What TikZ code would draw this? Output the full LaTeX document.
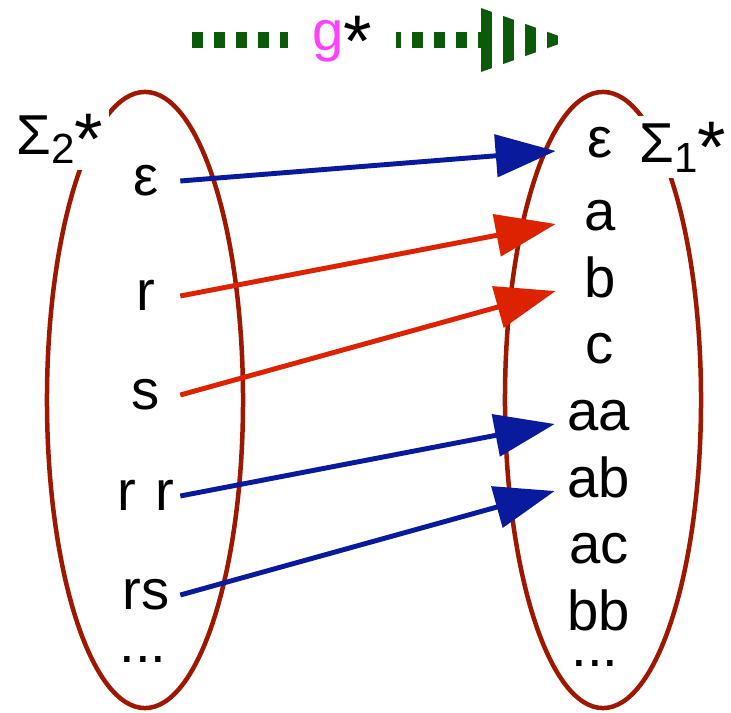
\documentclass[tikz,border=0pt]{standalone}
\usepackage{fontspec}
\setmainfont{Liberation Sans}
\usepackage{xcolor}
\usepackage{tikz}
\usetikzlibrary{arrows.meta,shapes.geometric}
\definecolor{setRing}{HTML}{9E1800}
\definecolor{mapBlue}{HTML}{0A1A9C}
\definecolor{mapRed}{HTML}{DD2200}
\definecolor{gGreen}{HTML}{0A5A0A}
\definecolor{gPink}{HTML}{FF40FF}
\newcommand{\wordsize}{\fontsize{40}{48}\selectfont}
\newcommand{\subsize}{\fontsize{30}{30}\selectfont}
\newcommand{\bigstar}[1]{\raisebox{#1}{\fontsize{52}{52}\selectfont *}}
\tikzset{
  setring/.style={
    ellipse,
    draw=setRing,
    line width=3.2pt,
    minimum width=4.9cm,
    minimum height=15.4cm,
    inner sep=0pt
  },
  leftWord/.style={
    anchor=base,
    text width=1.7cm,
    align=center,
    inner sep=0pt,
    font=\wordsize
  },
  rightWord/.style={
    anchor=base,
    text width=2.2cm,
    align=center,
    inner sep=0pt,
    font=\wordsize
  },
  setLabel/.style={
    anchor=base west,
    fill=white,
    inner sep=0.15cm,
    font=\wordsize
  },
  mapArrow/.style={
    -{Triangle[length=1.5cm,width=1.05cm]},
    line width=3.5pt
  },
  gShaft/.style={
    draw=gGreen,
    line width=0.4cm,
    dash pattern=on 0.275cm off 0.275cm
  },
  gLabel/.style={
    anchor=base,
    fill=white,
    inner sep=0pt,
    minimum width=2.7cm,
    font=\wordsize
  }
}

\begin{document}
\begin{tikzpicture}[x=0.025cm,y=-0.025cm]
  \useasboundingbox (0,0) rectangle (731,712);
  % top arrow g*
  \coordinate (gTail) at (192,40);
  \coordinate (gHead) at (481,40);
  \draw[gShaft] (gTail) -- (gHead);
  \begin{scope}
    \clip (gHead) ++(0,-32) -- ++(89,32) -- ++(-89,32) -- cycle;
    \foreach \x in {0,22,44,66}
      \fill[gGreen] (gHead) ++(\x,-40) rectangle ++(11,80);
  \end{scope}
  \node[gLabel] (gStar) at (342,50) {{\color{gPink}g}\bigstar{-0.4cm}};
  % the two sets
  \node[setring] (sigmaTwo) at (145,400) {};
  \node[setring] (sigmaOne) at (603,400) {};
  \node[setLabel] (sigmaTwoLabel) at (10,154) {Σ\raisebox{-0.225cm}{\subsize 2}\bigstar{-0.25cm}};
  \node[setLabel] (sigmaOneLabel) at (633,162) {Σ\raisebox{-0.25cm}{\subsize 1}\bigstar{-0.25cm}};
  % words of sigma 2
  \node[leftWord] (leftEps) at (146,195) {ε};
  \node[leftWord] (leftR) at (146,310) {r};
  \node[leftWord] (leftS) at (146,409) {s};
  \node[leftWord] (leftRR) at (146,510) {r r};
  \node[leftWord] (leftRS) at (146,609) {rs};
  \node[leftWord] (leftDots) at (143,662) {...};
  % words of sigma 1
  \node[rightWord] (rightEps) at (600,157) {ε};
  \node[rightWord] (rightA) at (600,230) {a};
  \node[rightWord] (rightB) at (600,297) {b};
  \node[rightWord] (rightC) at (600,363) {c};
  \node[rightWord] (rightAA) at (599,430) {aa};
  \node[rightWord] (rightAB) at (599,497) {ab};
  \node[rightWord] (rightAC) at (599,563) {ac};
  \node[rightWord] (rightBB) at (599,630) {bb};
  \node[rightWord] (rightDots) at (595,666) {...};
  % g* maps
  \draw[mapArrow,mapBlue] ([yshift=0.35cm]leftEps.base east) -- ([yshift=0.15cm]rightEps.base west);
  \draw[mapArrow,mapRed] ([yshift=0.35cm]leftR.base east) -- ([yshift=0.15cm]rightA.base west);
  \draw[mapArrow,mapRed] ([yshift=0.35cm]leftS.base east) -- ([yshift=0.15cm]rightB.base west);
  \draw[mapArrow,mapBlue] ([yshift=0.35cm]leftRR.base east) -- ([yshift=0.15cm]rightAA.base west);
  \draw[mapArrow,mapBlue] ([yshift=0.35cm]leftRS.base east) -- ([yshift=0.15cm]rightAB.base west);
\end{tikzpicture}
\end{document}
